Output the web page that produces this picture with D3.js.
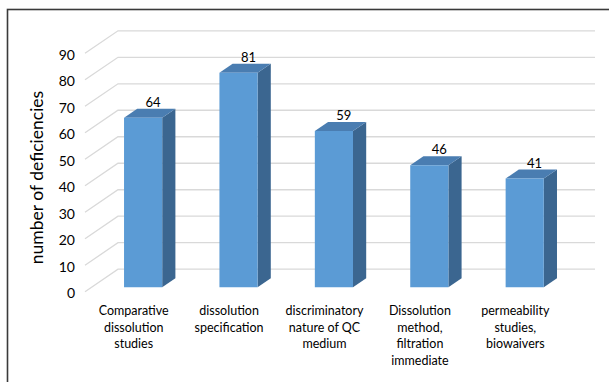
<!DOCTYPE html>
<html>
<head>
<meta charset="utf-8">
<script src="https://cdn.jsdelivr.net/npm/d3@7/dist/d3.min.js"></script>
<style>
  html, body { margin: 0; padding: 0; background: #fff; }
  svg { display: block; }
  text { font-family: Lato, "Open Sans", "Liberation Sans", sans-serif; fill: #000; }
</style>
</head>
<body>
<svg id="chart" width="609" height="382"></svg>
<script>
// Deficiency counts per dissolution topic
const categories = [
  "Comparative dissolution studies",
  "dissolution specification",
  "discriminatory nature of QC medium",
  "Dissolution method, filtration immediate",
  "permeability studies, biowaivers"
];
const categoryLines = [
  ["Comparative", "dissolution", "studies"],
  ["dissolution", "specification"],
  ["discriminatory", "nature of QC", "medium"],
  ["Dissolution", "method,", "filtration", "immediate"],
  ["permeability", "studies,", "biowaivers"]
];
const values = [64, 81, 59, 46, 41];
const yTicks = [0, 10, 20, 30, 40, 50, 60, 70, 80, 90];
const yTitle = "number of deficiencies";

const svg = d3.select("#chart");

// 3D projection: depth fraction t shifts points right and up
const DX = 33, DY = -22.5;
const proj = (x, y, t) => [x + DX * t, y + DY * t];

const x = d3.scaleBand().domain(categories).range([85, 562]);
const y = d3.scaleLinear().domain([0, 90]).range([291.7, 53.3]);

// outer frame
svg.append("rect")
  .attr("x", 7.5).attr("y", 9.5)
  .attr("width", 640).attr("height", 420)
  .attr("fill", "none").attr("stroke", "#3a3a3a").attr("stroke-width", 1.6);

// gridlines: side-wall diagonal plus back-wall horizontal
const grid = svg.append("g").attr("stroke", "#d9d9d9").attr("stroke-width", 1.3).attr("fill", "none");
const [x0, x1] = x.range();
yTicks.forEach(v => {
  const a = proj(x0, y(v), 0), b = proj(x0, y(v), 1), c = proj(x1, y(v), 1);
  grid.append("polyline").attr("points", [a, b, c].map(p => p.join(",")).join(" "));
});

// tick labels
svg.append("g").selectAll("text").data(yTicks).join("text")
  .attr("x", 75).attr("y", d => y(d) + 1)
  .attr("text-anchor", "end").attr("dominant-baseline", "central")
  .style("font-size", "14px")
  .text(d => d);

// axis title
svg.append("text")
  .attr("transform", "translate(36,177.5) rotate(-90)")
  .attr("text-anchor", "middle").attr("dominant-baseline", "central")
  .style("font-size", "17.5px")
  .text(yTitle);

// bars: front face, top face, side face
const T0 = 0.2, T1 = 0.6;
const bars = svg.append("g");
categories.forEach((cat, i) => {
  const bw = x.bandwidth();
  const left = x(cat) + bw * 0.34;
  const right = left + bw * 0.4;
  const top = y(values[i]), base = y(0);
  const fTL = proj(left, top, T0), fTR = proj(right, top, T0);
  const fBL = proj(left, base, T0), fBR = proj(right, base, T0);
  const bTL = proj(left, top, T1), bTR = proj(right, top, T1), bBR = proj(right, base, T1);
  const poly = (pts, fill) => bars.append("polygon")
    .attr("points", pts.map(p => p.join(",")).join(" "))
    .attr("fill", fill);
  poly([fTR, bTR, bBR, fBR], "#3b6690");
  poly([fTL, fTR, bTR, bTL], "#4a7db1");
  poly([fTL, fTR, fBR, fBL], "#5b9bd5");

  bars.append("text")
    .attr("x", fTL[0] + 29).attr("y", fTL[1] - 11)
    .attr("text-anchor", "middle")
    .style("font-size", "13px")
    .text(values[i]);
});

// category labels
const labels = svg.append("g");
categories.forEach((cat, i) => {
  const cx = x(cat) + x.bandwidth() / 2 + 1;
  const t = labels.append("text")
    .attr("x", cx).attr("y", 315)
    .attr("text-anchor", "middle")
    .style("font-size", "12.5px");
  categoryLines[i].forEach((ln, j) => {
    t.append("tspan").attr("x", cx).attr("y", 315 + j * 16.7).text(ln);
  });
});
</script>
</body>
</html>
